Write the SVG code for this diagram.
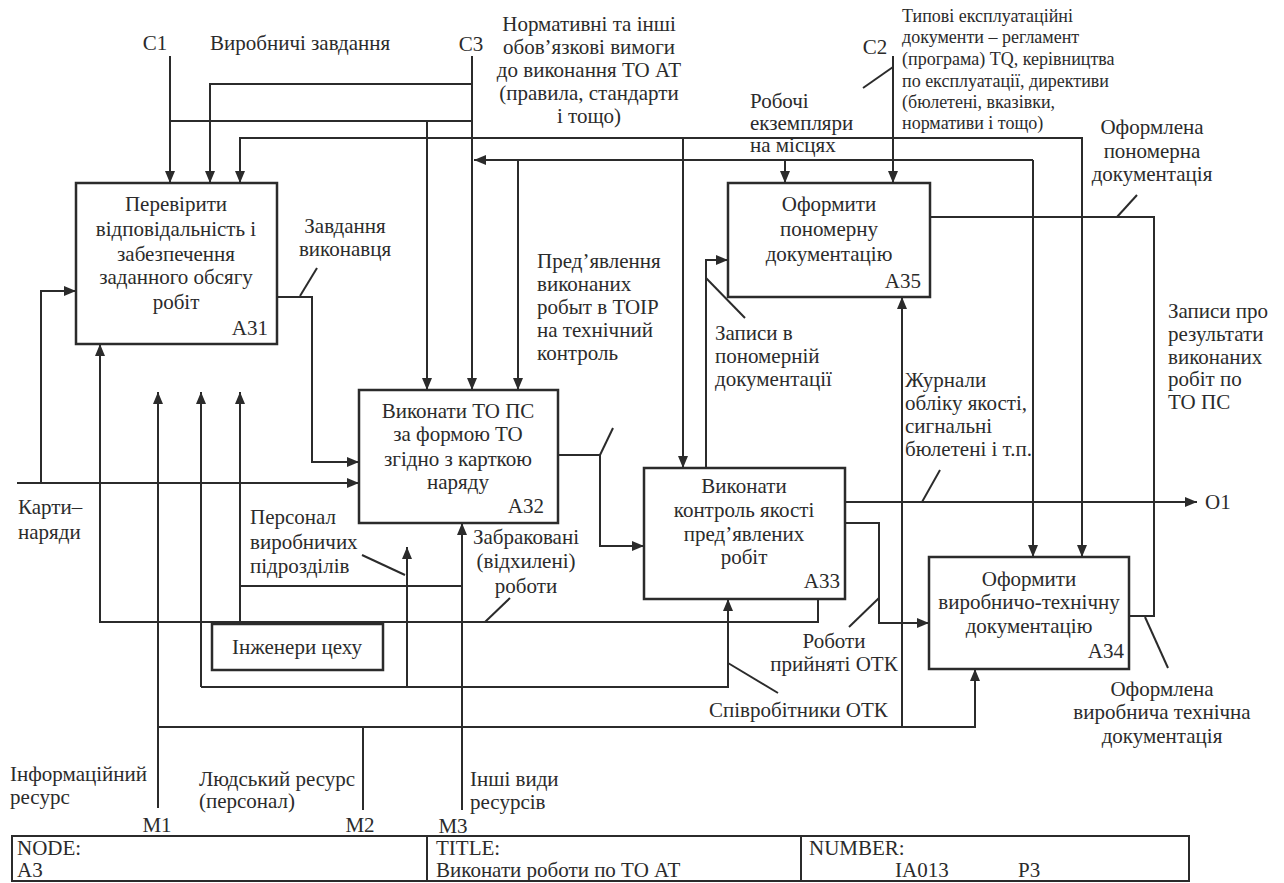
<svg xmlns="http://www.w3.org/2000/svg" width="1284" height="883" viewBox="0 0 1284 883">
<defs>
<marker id="arr" viewBox="0 0 12 10" refX="12" refY="5" markerWidth="12" markerHeight="10" orient="auto" markerUnits="userSpaceOnUse"><path d="M0,0 L12,5 L0,10 Z" fill="#2b2b2b"/></marker>
<style>
text{font-family:"Liberation Serif","Times New Roman","DejaVu Serif",serif;font-size:21px;fill:#2b2b2b}
.s{font-size:18px}
.m{text-anchor:middle}
.e{text-anchor:end}
.c{fill:none;stroke:#2b2b2b;stroke-width:2}
.a{marker-end:url(#arr)}
.b{fill:#fff;stroke:#2b2b2b;stroke-width:2.5}
</style>
</defs>
<rect width="1284" height="883" fill="#fff"/>
<g id="connectors">
<path class="c a" d="M170,56 V183"/>
<path class="c" d="M170,121 H472"/>
<path class="c a" d="M427,121 V390"/>
<path class="c a" d="M472,56 V390"/>
<path class="c a" d="M472,84 H210 V183"/>
<path class="c a" d="M472,138 H240 V183"/>
<path class="c a" d="M472,138 H1082 V557"/>
<path class="c a" d="M683,138 V468"/>
<path class="c a" d="M1033,160 H474"/>
<path class="c a" d="M1033,160 V557"/>
<path class="c a" d="M518,160 V390"/>
<path class="c a" d="M785,160 V183"/>
<path class="c a" d="M893,56 V183"/>
<path class="c" d="M930,217 H1154 V616 H1129"/>
<path class="c a" d="M277,297 H312 V462 H359"/>
<path class="c a" d="M17,483 H359"/>
<path class="c a" d="M41,483 V291 H76"/>
<path class="c a" d="M818,599 V622 H100 V344"/>
<path class="c a" d="M158,808 V392"/>
<path class="c a" d="M158,727 H975 V669"/>
<path class="c a" d="M902,727 V297"/>
<path class="c" d="M363,810 V727"/>
<path class="c a" d="M201,687 V392"/>
<path class="c a" d="M201,687 H728 V599"/>
<path class="c a" d="M407,687 V547"/>
<path class="c a" d="M462,810 V523"/>
<path class="c a" d="M462,586 H240 V392"/>
<path class="c" d="M240,586 V622"/>
<path class="c a" d="M558,455 H600 V546 H644"/>
<path class="c a" d="M706,468 V260 H728"/>
<path class="c a" d="M845,502 H1197"/>
<path class="c a" d="M845,523 H879 V623 H929"/>
<g id="leaders">
<path class="c" d="M300,296 L317,268"/>
<path class="c" d="M863,88 L893,67"/>
<path class="c" d="M1117,217 L1137,195"/>
<path class="c" d="M600,455 L613,428"/>
<path class="c" d="M706,278 L745,318"/>
<path class="c" d="M922,502 L940,470"/>
<path class="c" d="M879,598 L849,627"/>
<path class="c" d="M1145,617 L1168,668"/>
<path class="c" d="M362,555 L405,575"/>
<path class="c" d="M485,622 L510,598"/>
<path class="c" d="M728,663 L778,693"/>
</g>
</g>
<g id="A31">
<rect class="b" x="76" y="183" width="201" height="161"/>
<text class="m" x="176" y="211">Перевірити</text>
<text class="m" x="176" y="236">відповідальність і</text>
<text class="m" x="176" y="261">забезпечення</text>
<text class="m" x="176" y="284">заданного обсягу</text>
<text class="m" x="176" y="309">робіт</text>
<text class="e" x="268" y="335">A31</text>
</g>
<g id="A32">
<rect class="b" x="359" y="390" width="199" height="133"/>
<text class="m" x="458" y="418">Виконати ТО ПС</text>
<text class="m" x="458" y="441">за формою ТО</text>
<text class="m" x="458" y="466">згідно з карткою</text>
<text class="m" x="458" y="489">наряду</text>
<text class="e" x="544" y="513">A32</text>
</g>
<g id="A33">
<rect class="b" x="644" y="468" width="201" height="131"/>
<text class="m" x="744" y="493">Виконати</text>
<text class="m" x="744" y="517">контроль якості</text>
<text class="m" x="744" y="541">пред’явлених</text>
<text class="m" x="744" y="564">робіт</text>
<text class="e" x="840" y="588">A33</text>
</g>
<g id="A35">
<rect class="b" x="728" y="183" width="202" height="114"/>
<text class="m" x="829" y="211">Оформити</text>
<text class="m" x="829" y="236">пономерну</text>
<text class="m" x="829" y="261">документацію</text>
<text class="e" x="921" y="288">A35</text>
</g>
<g id="A34">
<rect class="b" x="929" y="557" width="200" height="112"/>
<text class="m" x="1029" y="586">Оформити</text>
<text class="m" x="1029" y="609">виробничо-технічну</text>
<text class="m" x="1029" y="633">документацію</text>
<text class="e" x="1124" y="658">A34</text>
</g>
<g id="engineers">
<rect class="b" x="212" y="624" width="171" height="46"/>
<text class="m" x="297" y="654">Інженери цеху</text>
</g>
<g id="labels">
<text class="m" x="155" y="50">C1</text>
<text x="210" y="50">Виробничі завдання</text>
<text class="m" x="471" y="51">C3</text>
<text class="m" x="875" y="54">C2</text>
<text class="m" x="589" y="31">Нормативні та інші</text>
<text class="m" x="589" y="54">обов’язкові вимоги</text>
<text class="m" x="589" y="77">до виконання ТО АТ</text>
<text class="m" x="589" y="100">(правила, стандарти</text>
<text class="m" x="589" y="123">і тощо)</text>
<text class="s" x="902" y="22">Типові експлуатаційні</text>
<text class="s" x="902" y="43">документи – регламент</text>
<text class="s" x="902" y="65">(програма) TQ, керівництва</text>
<text class="s" x="902" y="87">по експлуатації, директиви</text>
<text class="s" x="902" y="108">(бюлетені, вказівки,</text>
<text class="s" x="902" y="129">нормативи і тощо)</text>
<text x="750" y="108">Робочі</text>
<text x="750" y="130">екземпляри</text>
<text x="750" y="152">на місцях</text>
<text class="m" x="1152" y="134">Оформлена</text>
<text class="m" x="1152" y="158">пономерна</text>
<text class="m" x="1152" y="181">документація</text>
<text class="m" x="345" y="233">Завдання</text>
<text class="m" x="345" y="256">виконавця</text>
<text x="537" y="268">Пред’явлення</text>
<text x="537" y="291">виконаних</text>
<text x="537" y="314">робыт в ТОІР</text>
<text x="537" y="337">на технічний</text>
<text x="537" y="360">контроль</text>
<text x="715" y="340">Записи в</text>
<text x="715" y="363">пономерній</text>
<text x="715" y="386">документації</text>
<text x="905" y="387">Журнали</text>
<text x="905" y="410">обліку якості,</text>
<text x="905" y="433">сигнальні</text>
<text x="905" y="456">бюлетені і т.п.</text>
<text x="1168" y="318">Записи про</text>
<text x="1168" y="341">результати</text>
<text x="1168" y="364">виконаних</text>
<text x="1168" y="386">робіт по</text>
<text x="1168" y="409">ТО ПС</text>
<text x="1205" y="509">O1</text>
<text x="18" y="514">Карти–</text>
<text x="18" y="539">наряди</text>
<text x="250" y="524">Персонал</text>
<text x="250" y="549">виробничих</text>
<text x="250" y="573">підрозділів</text>
<text class="m" x="526" y="544">Забраковані</text>
<text class="m" x="526" y="568">(відхилені)</text>
<text class="m" x="526" y="593">роботи</text>
<text class="m" x="834" y="648">Роботи</text>
<text class="m" x="834" y="671">прийняті ОТК</text>
<text x="709" y="717">Співробітники ОТК</text>
<text class="m" x="1162" y="696">Оформлена</text>
<text class="m" x="1162" y="719">виробнича технічна</text>
<text class="m" x="1162" y="743">документація</text>
<text x="10" y="781">Інформаційний</text>
<text x="10" y="804">ресурс</text>
<text x="199" y="786">Людський ресурс</text>
<text x="199" y="808">(персонал)</text>
<text x="470" y="786">Інші види</text>
<text x="470" y="809">ресурсів</text>
<text class="m" x="157" y="832">M1</text>
<text class="m" x="360" y="832">M2</text>
<text class="m" x="453" y="833">M3</text>
</g>
<g id="titleblock">
<rect x="12" y="836" width="1177" height="45" fill="none" stroke="#2b2b2b" stroke-width="2"/>
<path class="c" d="M427,836 V881 M801,836 V881"/>
<text x="17" y="855">NODE:</text>
<text x="17" y="877">A3</text>
<text x="436" y="855">TITLE:</text>
<text x="436" y="877">Виконати роботи по ТО АТ</text>
<text x="809" y="855">NUMBER:</text>
<text x="895" y="877">IA013</text>
<text x="1018" y="877">P3</text>
</g>
</svg>
